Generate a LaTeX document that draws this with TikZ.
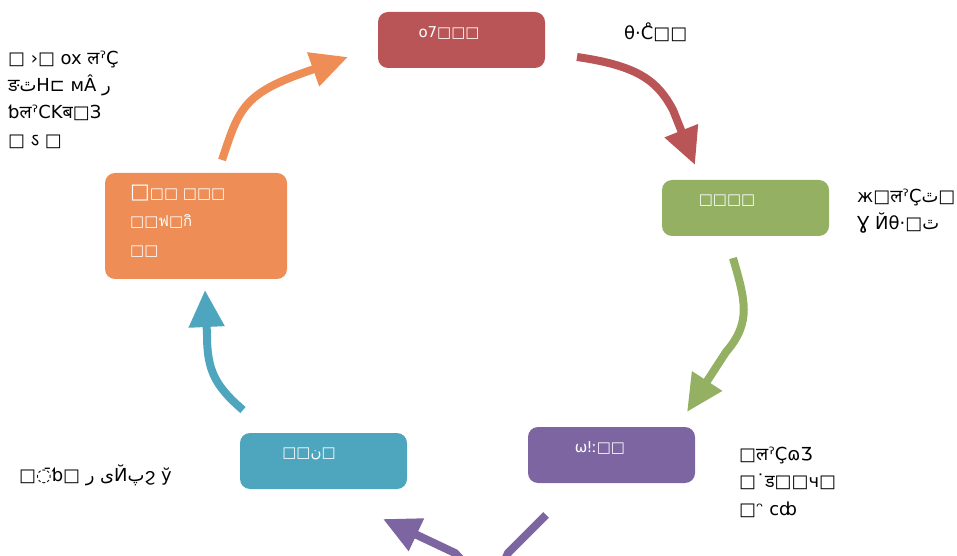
\documentclass[tikz,border=0pt]{standalone}
\usepackage{fontspec}
\setmainfont{DejaVu Sans}
\newfontfamily\devafont[Script=Devanagari]{Noto Sans}
\newfontfamily\thaifont[Script=Thai]{Loma}
\usetikzlibrary{arrows.meta}
\TeXXeTstate=1
\newcommand\rtlchar[1]{\beginR #1\endR}
\definecolor{stepred}{HTML}{B95557}
\definecolor{stepgreen}{HTML}{94B163}
\definecolor{steppurple}{HTML}{7C65A0}
\definecolor{stepteal}{HTML}{4DA6BE}
\definecolor{steporange}{HTML}{EE8D55}
\begin{document}
\begin{tikzpicture}[x=1bp, y=1bp,
  box/.style = {rounded corners=10bp, minimum width=167bp, minimum height=56bp, inner sep=0pt},
  txt/.style = {text=white, inner sep=0pt, font=\fontsize{15}{20}\selectfont},
  lbl/.style = {align=left, anchor=west, inner sep=0pt, font=\fontsize{18}{27.5}\selectfont},
  cyc/.style = {line width=8bp, -{Triangle[length=37bp, width=34bp]}}]
\useasboundingbox (0,0) rectangle (957,-556);
\clip (0,0) rectangle (957,-556);
% boxes
\node[box, fill=stepred] (plan) at (461.5,-40) {};
\node[box, fill=stepgreen] (do) at (745.5,-208) {};
\node[box, fill=steppurple] (check) at (611.5,-455) {};
\node[box, fill=stepteal] (act) at (323.5,-461) {};
\node[box, fill=steporange, minimum width=182bp, minimum height=106bp] (review) at (196,-226) {};
% box texts
\node[txt] (plantxt) at (449,-33) {o7□□□};
\node[txt] (dotxt) at (727,-201) {□□□□};
\node[txt] (checktxt) at (600,-448) {ωǃː□□};
\node[txt] (acttxt) at (309,-454) {□□\rtlchar{ن}□};
\node[txt, align=left, anchor=west, font=\fontsize{15}{28.5}\selectfont] (reviewtxt) at (130,-221)
  {{\fontsize{21}{21}\selectfont □}□□ □□□\\ □□{\thaifont ฟ}□{\thaifont กิ}\\ □□};
% side labels
\node[lbl] (plannote) at (624,-32) {θ·C̊□□};
\node[lbl] (reviewnote) at (8,-99.5)
  {□ ›□ ox {\devafont ल}ˀÇ\\ {\devafont ङ}\rtlchar{ٿ}H⊏ мÂ \rtlchar{ر}\\ ƅ{\devafont ल}ˀСK{\devafont ब}□З\\ □ {\devafont ऽ} □};
\node[lbl] (donote) at (857,-211) {ж□{\devafont ल}ˀÇ\rtlchar{ٿ}□\\ Ɣ Йθ·□\rtlchar{ٿ}};
\node[lbl] (checknote) at (739,-482) {□{\devafont ल}ˀÇɷƷ\\ □˙{\devafont ड}□□ч□\\ □ᵔ cȸ};
\node[lbl] (actnote) at (19,-475) {□◌̄ƅ□ \rtlchar{ر} \rtlchar{ی}Й\rtlchar{پ}ϩ ў};
% arrow ends
\coordinate (o1) at (222,-160); \coordinate (o2) at (348,-57);
\coordinate (r1) at (577,-57);  \coordinate (r2) at (695,-165);
\coordinate (g1) at (733,-258); \coordinate (g2) at (687,-412);
\coordinate (p1) at (546,-515); \coordinate (p2) at (383,-519);
\coordinate (t1) at (243,-410); \coordinate (t2) at (205,-290);
% cycle arrows
\draw[cyc, color=steporange] (o1) .. controls (238,-112) and (242,-95) .. (300,-74) -- (o2);
\draw[cyc, color=stepred] (r1) .. controls (640,-66) and (658,-82) .. (673,-110) -- (r2);
\draw[cyc, color=stepgreen] (g1) .. controls (745,-300) and (752,-322) .. (726,-352) -- (g2);
\draw[cyc, color=steppurple] (p1) -- (508,-553) .. controls (491,-592) .. (455,-553) -- (p2);
\draw[cyc, color=stepteal] (t1) .. controls (215,-386) and (207,-370) .. (207,-335) -- (t2);
\end{tikzpicture}
\end{document}
